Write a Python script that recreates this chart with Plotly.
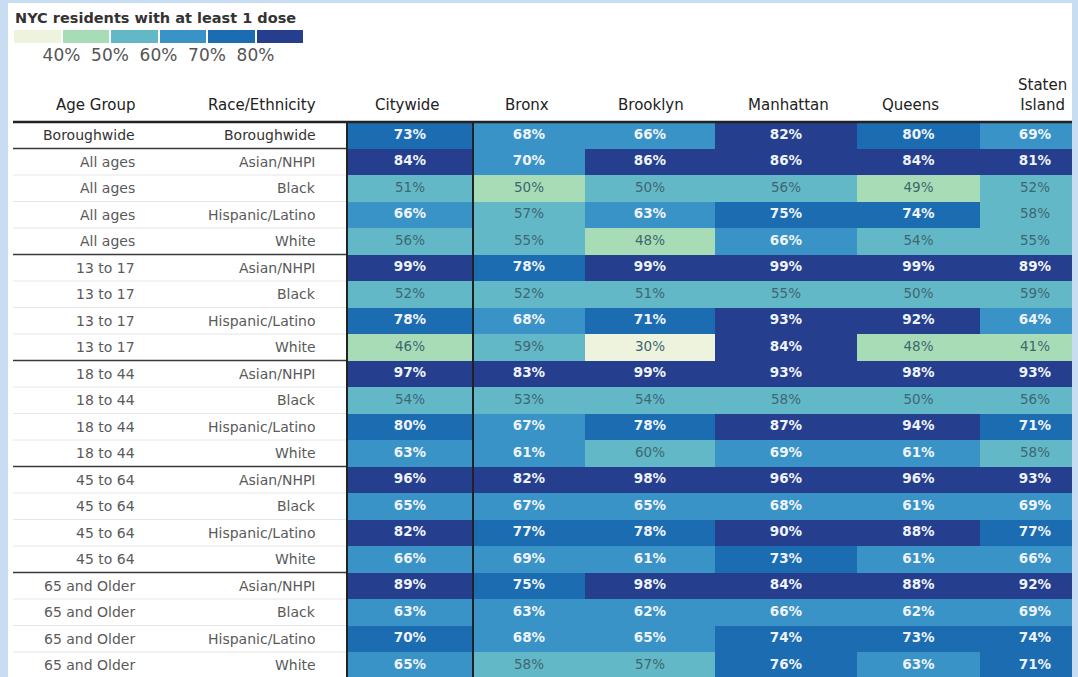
import plotly.graph_objects as go

W, H = 1078, 677

# ---------------- data ----------------
boroughs = ["Citywide", "Bronx", "Brooklyn", "Manhattan", "Queens", "Staten Island"]
header_labels = ["Citywide", "Bronx", "Brooklyn", "Manhattan", "Queens", "Staten<br>Island"]
age_groups = (["Boroughwide"] + ["All ages"] * 4 + ["13 to 17"] * 4 + ["18 to 44"] * 4
              + ["45 to 64"] * 4 + ["65 and Older"] * 4)
races = ["Boroughwide"] + ["Asian/NHPI", "Black", "Hispanic/Latino", "White"] * 5

citywide = [73, 84, 51, 66, 56, 99, 52, 78, 46, 97, 54, 79.7, 63, 96, 65, 82, 66, 89, 63, 70.2, 65]
bronx = [68, 69.7, 49.6, 57, 55, 78, 52, 68, 59, 83, 53, 67, 61, 82, 67, 77, 69, 75, 63, 68, 58]
brooklyn = [66, 86, 50.2, 63, 48, 99, 51, 71, 30, 99, 54, 78, 59.6, 98, 65, 78, 61, 98, 62, 65, 57]
manhattan = [82, 86, 56, 75, 66, 99, 55, 93, 84, 93, 58, 87, 69, 96, 68, 90, 73, 84, 66, 74, 76]
queens = [79.7, 84, 49, 74, 54, 99, 50.2, 92, 48, 98, 50.3, 94, 61, 96, 61, 88, 61, 88, 62, 73, 63]
staten = [69, 81, 52, 58, 55, 89, 59, 64, 41, 93, 56, 71, 58, 93, 69, 77, 66, 92, 69, 74, 71]

legend_title = "NYC residents with at least 1 dose"
legend_bins = [35, 45, 55, 65, 75, 85]
legend_ticks = [40, 50, 60, 70, 80]
legend_ticktext = ["40%", "50%", "60%", "70%", "80%"]

# ---------------- styling / layout ----------------
bin_colors = ["#eef3dd", "#a8dcb6", "#63b8c8", "#3a93c6", "#1c6cb2", "#263e8e"]
ZMIN, ZMAX = 30, 90
colorscale = []
for i, c in enumerate(bin_colors):
    colorscale += [[i / 6, c], [(i + 1) / 6, c]]

FONT = "DejaVu Sans"
col_edges = [347, 473, 585, 715, 857, 980, 1090]   # pixel layout of columns
col_centers = [(a + b) / 2 for a, b in zip(col_edges[:-1], col_edges[1:])]
header_x = [407, 527, 651, 788, 910, 1042]
TOP, RH = 122, 26.5     # first row top (px) and row height (px)


def row_of(p):
    return (p - TOP) / RH - 0.5


columns = [citywide, bronx, brooklyn, manhattan, queens, staten]
nrows = len(races)
z = [[col[r] for col in columns] for r in range(nrows)]
rows = list(range(nrows))

fig = go.Figure()

fig.add_trace(go.Heatmap(
    x=col_edges, y=rows, z=z, colorscale=colorscale, zmin=ZMIN, zmax=ZMAX,
    showscale=False, hoverinfo="skip", xgap=0, ygap=0,
))

# cell labels
tx, ty, tt, tc = [], [], [], []
for r in rows:
    for c, col in enumerate(columns):
        v = col[r]
        tx.append(col_centers[c])
        ty.append(r)
        if v >= 60:
            tt.append(f"<b>{round(v)}%</b>")
            tc.append("#eef3fb")
        else:
            tt.append(f"{round(v)}%")
            tc.append("#3e6770")
fig.add_trace(go.Scatter(
    x=tx, y=ty, text=tt, mode="text", hoverinfo="skip",
    textfont=dict(family=FONT, size=13.5, color=tc), showlegend=False,
))

# legend strip
fig.add_trace(go.Heatmap(
    x=legend_bins, y=[0], z=[legend_bins], colorscale=colorscale, zmin=ZMIN, zmax=ZMAX,
    showscale=False, hoverinfo="skip", xgap=2, xaxis="x2", yaxis="y2",
))

annotations = []
HDR_BOTTOM = row_of(116)
# headers
annotations.append(dict(x=137, y=HDR_BOTTOM, text="Age Group", xanchor="right", yanchor="bottom",
                        showarrow=False, font=dict(family=FONT, size=15, color="#222222")))
annotations.append(dict(x=318, y=HDR_BOTTOM, text="Race/Ethnicity", xanchor="right", yanchor="bottom",
                        showarrow=False, font=dict(family=FONT, size=15, color="#222222")))
for hx, lab in zip(header_x, header_labels):
    annotations.append(dict(x=hx, y=HDR_BOTTOM, text=lab, xanchor="center", yanchor="bottom",
                            showarrow=False, font=dict(family=FONT, size=15, color="#222222")))
# row labels
for r in rows:
    colr = "#333333" if r == 0 else "#5a5a5a"
    annotations.append(dict(x=137, y=r, text=age_groups[r], xanchor="right", yanchor="middle",
                            showarrow=False, font=dict(family=FONT, size=14, color=colr)))
    annotations.append(dict(x=318, y=r, text=races[r], xanchor="right", yanchor="middle",
                            showarrow=False, font=dict(family=FONT, size=14, color=colr)))
# legend title
annotations.append(dict(x=13 / W, y=1 - 18 / H, xref="paper", yref="paper", text=f"<b>{legend_title}</b>",
                        xanchor="left", yanchor="middle", showarrow=False,
                        font=dict(family=FONT, size=14.5, color="#333333")))

shapes = []
LEFT = 13
# thin row separators in label area
for r in range(1, nrows):
    b = r - 0.5
    if r in (1, 5, 9, 13, 17):
        shapes.append(dict(type="line", x0=LEFT, x1=col_edges[0], y0=b, y1=b, xref="x", yref="y",
                           line=dict(color="#3a3a3a", width=1.5)))
    else:
        shapes.append(dict(type="line", x0=LEFT, x1=col_edges[0], y0=b, y1=b, xref="x", yref="y",
                           line=dict(color="#e6e6e6", width=1)))
# header underline
shapes.append(dict(type="line", x0=LEFT, x1=1072, y0=-0.5, y1=-0.5, xref="x", yref="y",
                   line=dict(color="#222222", width=2.5)))
# vertical separators
for xv in (col_edges[0], col_edges[1]):
    shapes.append(dict(type="line", x0=xv, x1=xv, y0=-0.5, y1=nrows, xref="x", yref="y",
                       line=dict(color="#222222", width=2)))

fig.update_layout(
    width=W, height=H,
    margin=dict(l=0, r=0, t=0, b=0),
    paper_bgcolor="#c8dcf2",
    plot_bgcolor="white",
    showlegend=False,
    annotations=annotations,
    shapes=shapes,
    xaxis=dict(domain=[8 / W, 1072 / W], range=[8, 1072], visible=False, fixedrange=True),
    yaxis=dict(domain=[0, 1 - 3 / H], range=[row_of(H), row_of(3)], visible=False, fixedrange=True),
    xaxis2=dict(domain=[13 / W, 304 / W], range=[30, 90], anchor="y2", tickvals=legend_ticks,
                ticktext=legend_ticktext, ticks="", showgrid=False, zeroline=False, showline=False,
                tickfont=dict(family=FONT, size=17, color="#555555"), fixedrange=True),
    yaxis2=dict(domain=[1 - 43 / H, 1 - 30 / H], range=[-0.5, 0.5], anchor="x2", visible=False,
                fixedrange=True),
)

fig.write_html(
    "out.html",
    config={"displayModeBar": False},
    post_script="document.body.style.margin='0';document.body.style.overflow='hidden';",
)
